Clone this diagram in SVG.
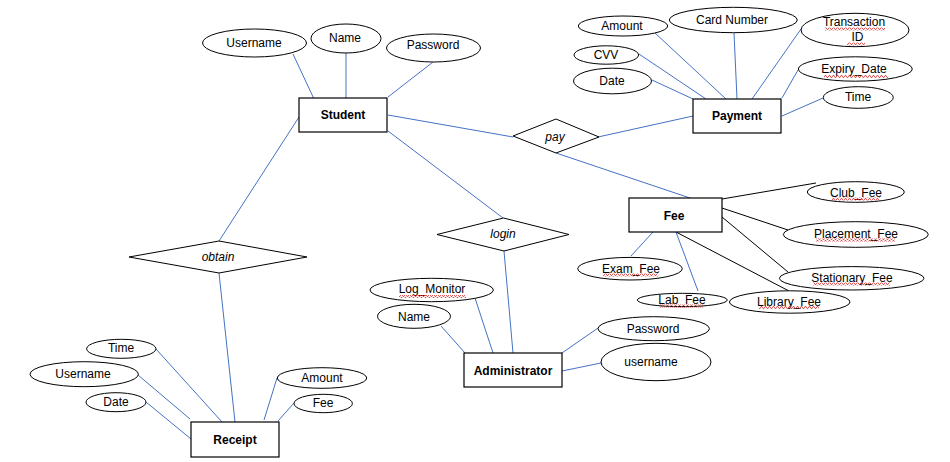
<svg xmlns="http://www.w3.org/2000/svg" width="950" height="462" viewBox="0 0 950 462">
<style>
.ent{fill:#fff;stroke:#000;stroke-width:1.2}
.att{fill:#fff;stroke:#000;stroke-width:1}
.rel{fill:#fff;stroke:#000;stroke-width:1}
.bl{stroke:#4472C4;stroke-width:1;fill:none}
.bk{stroke:#000;stroke-width:1;fill:none}
text{font-family:"Liberation Sans",Arial,sans-serif;font-size:12px;text-anchor:middle;fill:#000}
.b{font-weight:bold}
.i{font-style:italic}
.sq{fill:url(#wave)}
</style>
<defs>
<pattern id="wave" width="4" height="3" patternUnits="userSpaceOnUse">
<path d="M0 2.5 L1 0.5 L2 0.5 L3 2.5 L4 2.5" fill="none" stroke="#e03030" stroke-width="0.8"/>
</pattern>
</defs>
<rect width="950" height="462" fill="#fff"/>
<g id="connectors">
<line class="bl" x1="293" y1="54" x2="314" y2="99"/>
<line class="bl" x1="346" y1="53" x2="346" y2="98"/>
<line class="bl" x1="433" y1="62" x2="388" y2="97"/>
<line class="bl" x1="388" y1="115" x2="513" y2="137"/>
<line class="bl" x1="388" y1="131" x2="503" y2="218"/>
<line class="bl" x1="299" y1="117" x2="219" y2="241"/>
<line class="bl" x1="556" y1="153" x2="693" y2="199"/>
<line class="bl" x1="598" y1="137" x2="693" y2="116"/>
<line class="bl" x1="655" y1="33" x2="726" y2="99"/>
<line class="bl" x1="734" y1="33" x2="737" y2="99"/>
<line class="bl" x1="801" y1="29" x2="752" y2="99"/>
<line class="bl" x1="639" y1="54" x2="706" y2="99"/>
<line class="bl" x1="652" y1="80" x2="693" y2="99"/>
<line class="bl" x1="798" y1="70" x2="782" y2="98"/>
<line class="bl" x1="823" y1="98" x2="782" y2="116"/>
<line class="bk" x1="722" y1="199" x2="816" y2="183"/>
<line class="bk" x1="722" y1="208" x2="788" y2="230"/>
<line class="bk" x1="722" y1="217" x2="788" y2="272"/>
<line class="bk" x1="676" y1="232" x2="789" y2="291"/>
<line class="bl" x1="653" y1="232" x2="631" y2="256"/>
<line class="bl" x1="676" y1="232" x2="698" y2="291"/>
<line class="bl" x1="504" y1="251" x2="513" y2="353"/>
<line class="bl" x1="475" y1="298" x2="493" y2="353"/>
<line class="bl" x1="441" y1="326" x2="465" y2="353"/>
<line class="bl" x1="598" y1="328" x2="562" y2="353"/>
<line class="bl" x1="601" y1="363" x2="562" y2="371"/>
<line class="bl" x1="219" y1="273" x2="235" y2="422"/>
<line class="bl" x1="156" y1="349" x2="222" y2="422"/>
<line class="bl" x1="138" y1="375" x2="190" y2="419"/>
<line class="bl" x1="146" y1="402" x2="191" y2="439"/>
<line class="bl" x1="277" y1="378" x2="264" y2="420"/>
<line class="bl" x1="294" y1="403" x2="278" y2="421"/>
</g>
<g id="student"><rect class="ent" x="299" y="98" width="88" height="34"/><text class="b" x="343" y="119">Student</text></g>
<g id="student-username"><ellipse class="att" cx="254.5" cy="43" rx="52" ry="14"/><text x="254" y="47">Username</text></g>
<g id="student-name"><ellipse class="att" cx="346" cy="38.5" rx="35" ry="14.5"/><text x="345" y="42">Name</text></g>
<g id="student-password"><ellipse class="att" cx="433.5" cy="48" rx="47" ry="14"/><text x="433" y="49">Password</text></g>
<g id="pay"><polygon class="rel" points="513,136 556,119 599,137 556,153"/><text class="i" x="555" y="141">pay</text></g>
<g id="payment"><rect class="ent" x="693" y="99" width="88" height="34"/><text class="b" x="737" y="120">Payment</text></g>
<g id="payment-amount"><ellipse class="att" cx="623" cy="26" rx="44.7" ry="10"/><text x="622" y="30">Amount</text></g>
<g id="payment-card"><ellipse class="att" cx="733.3" cy="20" rx="64" ry="12.7"/><text x="732" y="24">Card Number</text></g>
<g id="payment-transaction"><ellipse class="att" cx="855" cy="30" rx="54" ry="16.7"/><text x="854" y="26">Transaction</text><text x="857.5" y="41">ID</text><rect class="sq" x="825" y="27.5" width="60" height="3"/><rect class="sq" x="847" y="42.5" width="18" height="3"/></g>
<g id="payment-cvv"><ellipse class="att" cx="606.3" cy="55" rx="32.3" ry="9.2"/><text x="606" y="59">CVV</text></g>
<g id="payment-date"><ellipse class="att" cx="612.5" cy="81" rx="39" ry="12.8"/><text x="612" y="85">Date</text></g>
<g id="payment-expiry"><ellipse class="att" cx="855.3" cy="69" rx="57" ry="12.2"/><text x="854" y="73">Expiry_Date</text><rect class="sq" x="824" y="75" width="64" height="3"/></g>
<g id="payment-time"><ellipse class="att" cx="858.3" cy="97.5" rx="35" ry="10.8"/><text x="858" y="101">Time</text></g>
<g id="fee"><rect class="ent" x="629" y="198" width="93" height="34"/><text class="b" x="674" y="220">Fee</text></g>
<g id="fee-club"><ellipse class="att" cx="855.8" cy="192" rx="48.5" ry="10.3"/><text x="856" y="197">Club_Fee</text><rect class="sq" x="832" y="197.5" width="48" height="3"/></g>
<g id="fee-placement"><ellipse class="att" cx="855.8" cy="234.5" rx="72.5" ry="12.8"/><text x="856" y="238">Placement_Fee</text><rect class="sq" x="816" y="238.5" width="79" height="3"/></g>
<g id="fee-stationary"><ellipse class="att" cx="851.7" cy="278.3" rx="72.3" ry="11.7"/><text x="852" y="282">Stationary_Fee</text><rect class="sq" x="813" y="282.5" width="77" height="3"/></g>
<g id="fee-library"><ellipse class="att" cx="789.7" cy="302" rx="60.3" ry="11.2"/><text x="789" y="306">Library_Fee</text><rect class="sq" x="759" y="306" width="60" height="3"/></g>
<g id="fee-exam"><ellipse class="att" cx="630" cy="268.7" rx="52.3" ry="11.3"/><text x="631" y="273">Exam_Fee</text><rect class="sq" x="603" y="273.5" width="55" height="3"/></g>
<g id="fee-lab"><ellipse class="att" cx="682.3" cy="300" rx="45" ry="6.7"/><text x="682" y="304">Lab_Fee</text><rect class="sq" x="660" y="304.5" width="43" height="3"/></g>
<g id="login"><polygon class="rel" points="437,234.5 503.5,218 569,234.5 504,251"/><text class="i" x="503" y="238">login</text></g>
<g id="administrator"><rect class="ent" x="464" y="353" width="98" height="34"/><text class="b" x="513" y="375">Administrator</text></g>
<g id="admin-logmonitor"><ellipse class="att" cx="431.7" cy="290" rx="61.7" ry="11.7"/><text x="432" y="293">Log_Monitor</text><rect class="sq" x="399" y="295" width="67" height="3"/></g>
<g id="admin-name"><ellipse class="att" cx="414" cy="316.3" rx="36.5" ry="12"/><text x="414" y="321">Name</text></g>
<g id="admin-password"><ellipse class="att" cx="653.7" cy="328.7" rx="55.7" ry="12"/><text x="653" y="333">Password</text></g>
<g id="admin-username"><ellipse class="att" cx="656" cy="362" rx="55" ry="18.7"/><text x="651" y="366">username</text></g>
<g id="obtain"><polygon class="rel" points="129,257 219,241 307,257 219,273"/><text class="i" x="218" y="261">obtain</text></g>
<g id="receipt"><rect class="ent" x="191" y="422" width="88" height="35"/><text class="b" x="235" y="444">Receipt</text></g>
<g id="receipt-time"><ellipse class="att" cx="121.3" cy="348.8" rx="34.7" ry="9.5"/><text x="121" y="352">Time</text></g>
<g id="receipt-username"><ellipse class="att" cx="84.2" cy="374.2" rx="54.2" ry="12.5"/><text x="83" y="378">Username</text></g>
<g id="receipt-date"><ellipse class="att" cx="116" cy="402.2" rx="30" ry="9.5"/><text x="116" y="406">Date</text></g>
<g id="receipt-amount"><ellipse class="att" cx="322" cy="378" rx="44.7" ry="10.3"/><text x="322" y="382">Amount</text></g>
<g id="receipt-fee"><ellipse class="att" cx="323.2" cy="403.5" rx="29.2" ry="9.2"/><text x="323" y="407">Fee</text></g>
</svg>
